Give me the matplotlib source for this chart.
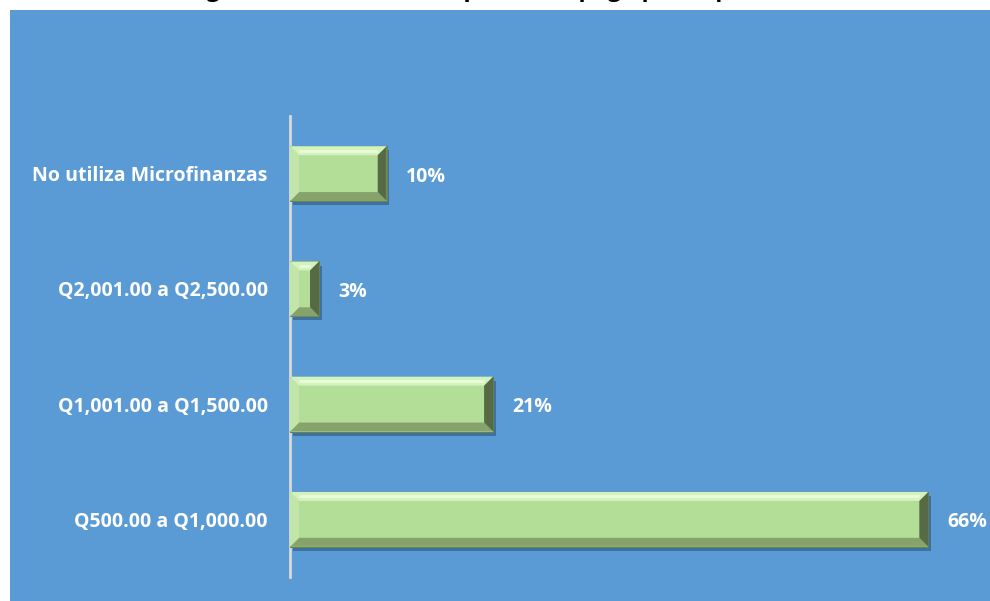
import matplotlib
matplotlib.use("Agg")
import matplotlib.pyplot as plt
import matplotlib.patches as mpatches
import matplotlib.patheffects as pe
import numpy as np

plt.rcParams['font.family'] = ['Open Sans', 'DejaVu Sans']

# data (bottom to top, as drawn)
categories = ["Q500.00 a Q1,000.00", "Q1,001.00 a Q1,500.00",
              "Q2,001.00 a Q2,500.00", "No utiliza Microfinanzas"]
values = [0.66, 0.21, 0.03, 0.10]
value_labels = ["66%", "21%", "3%", "10%"]
title = "Rango de cuota mensual que usted paga por el préstamo"

W, H = 990, 601
fig = plt.figure(figsize=(W / 100, H / 100), dpi=100)
fig.patch.set_facecolor('white')

# blue panel behind the chart
panel = mpatches.Rectangle((10 / W, 0), 1 - 10 / W, 1 - 10 / H, transform=fig.transFigure,
                           facecolor='#5B9BD5', edgecolor='none', zorder=-5)
fig.patches.append(panel)

# title, cut off by the top edge like in the original
fig.text(495 / W, 1 + 4 / H, title, ha='center', va='baseline', fontsize=17,
         fontweight='bold', color='black')

ax = fig.add_axes([290 / W, 1 - 577 / H, (967 - 290) / W, (577 - 116) / H])
ax.set_facecolor('none')
ax.set_zorder(2)

y_pos = np.arange(len(categories))
bars = ax.barh(y_pos, values, height=0.476, color='#B3DE98', edgecolor='#5E7A4A',
               linewidth=0.6, zorder=3)
for b in bars:
    b.set_path_effects([pe.withSimplePatchShadow(offset=(2, -3), shadow_rgbFace='#1F3F60',
                                                  alpha=0.45), pe.Normal()])

ax.set_xlim(0, 0.70)
ax.set_ylim(-0.5, len(categories) - 0.5)

# bevel edges, sized in pixels
px_x = ax.get_position().width * W / 0.70
px_y = ax.get_position().height * H / len(categories)
bx = 9 / px_x
by = 9 / px_y
for b in bars:
    x0, y0 = b.get_x(), b.get_y()
    x1, y1 = x0 + b.get_width(), y0 + b.get_height()
    bxx = min(bx, b.get_width() / 2.2)
    pieces = [
        ([(x0, y1), (x1, y1), (x1 - bxx, y1 - by), (x0 + bxx, y1 - by)], '#D4F2BE'),
        ([(x0, y0), (x1, y0), (x1 - bxx, y0 + by), (x0 + bxx, y0 + by)], '#86A36C'),
        ([(x0, y0), (x0, y1), (x0 + bxx, y1 - by), (x0 + bxx, y0 + by)], '#C2E6AA'),
        ([(x1, y0), (x1, y1), (x1 - bxx, y1 - by), (x1 - bxx, y0 + by)], '#566B45'),
    ]
    for pts, c in pieces:
        ax.add_patch(mpatches.Polygon(pts, closed=True, facecolor=c, edgecolor='none', zorder=4))
    # light streak on top bevel
    ax.plot([x0 + bxx, x1 - bxx], [y1 - by * 0.5, y1 - by * 0.5], color='#E8FCD8',
            linewidth=2, zorder=5, solid_capstyle='butt')

for v, lab, yy in zip(values, value_labels, y_pos):
    ax.annotate(lab, (v, yy), xytext=(19, -3), textcoords='offset pixels', ha='left',
                va='center', fontsize=14, fontweight='bold', color='white')

ax.set_yticks(y_pos)
ax.set_yticklabels(categories, fontsize=14, fontweight='bold', color='white')
ax.tick_params(axis='y', length=0, pad=16)
ax.set_xticks([])
for s in ['top', 'right', 'bottom']:
    ax.spines[s].set_visible(False)
ax.spines['left'].set_color('#D9D9D9')
ax.spines['left'].set_linewidth(2)

plt.savefig("out.png", dpi=100)
